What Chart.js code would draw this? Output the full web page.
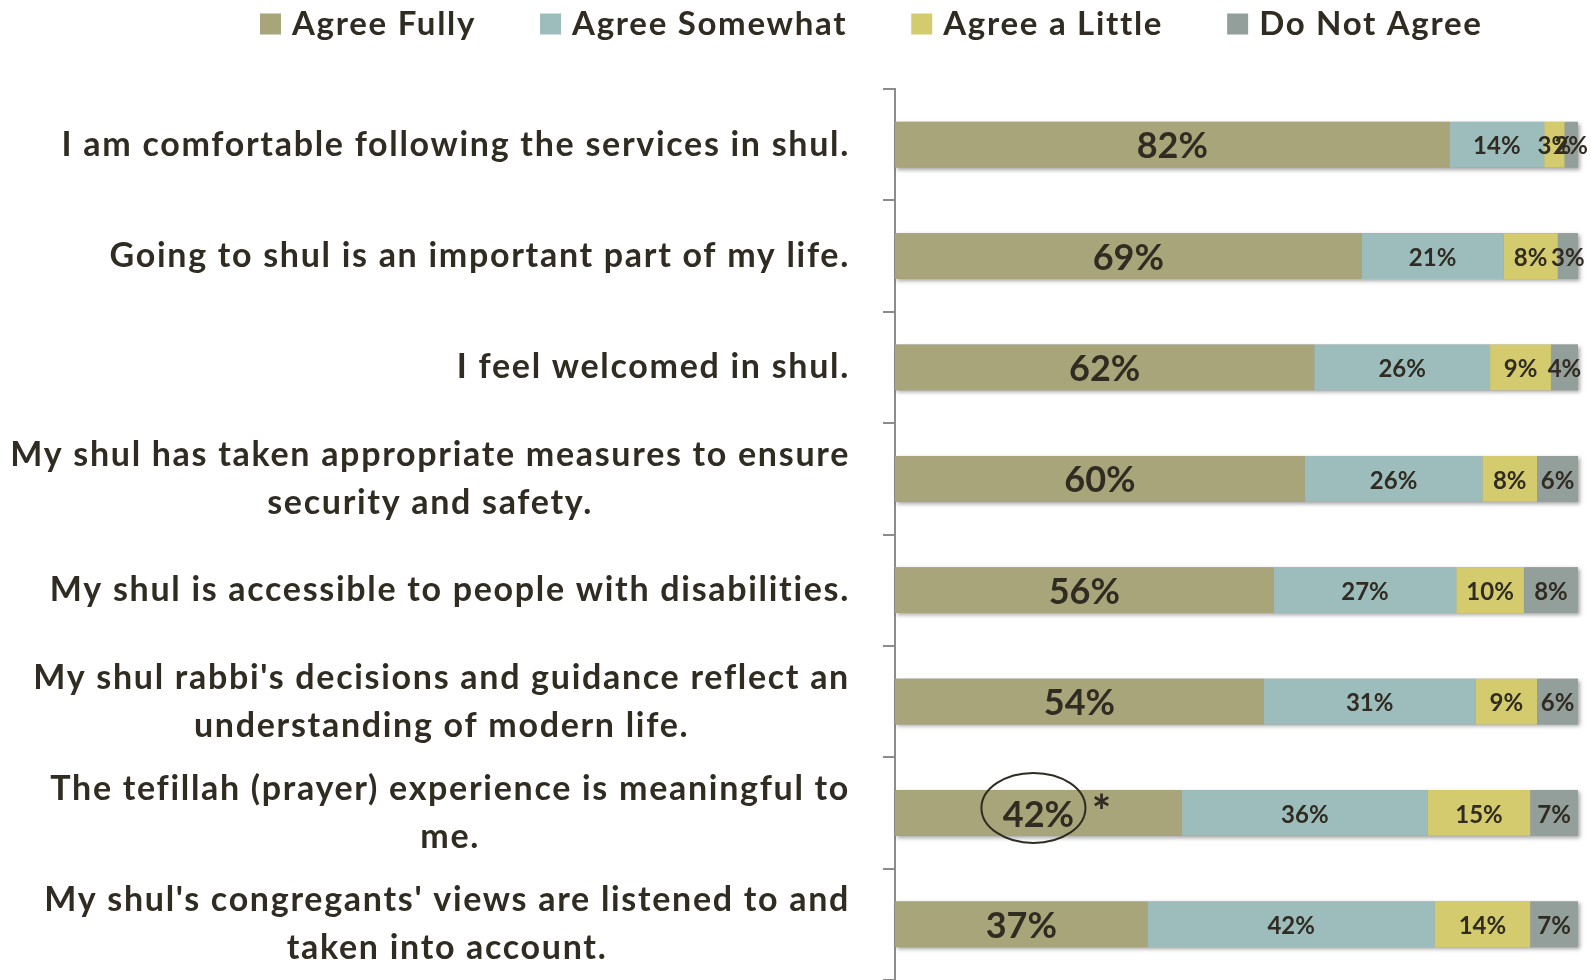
<!DOCTYPE html>
<html>
<head>
<meta charset="utf-8">
<script src="https://cdn.jsdelivr.net/npm/chart.js@4.4.1/dist/chart.umd.min.js"></script>
<style>
  html, body { margin: 0; padding: 0; background: #fff; }
  #wrap { width: 1591px; height: 980px; }
</style>
</head>
<body>
<div id="wrap"><canvas id="shulChart" width="1591" height="980"></canvas></div>
<script>
// survey statements (wrapped the way the original wraps them)
var statements = [
    ['I am comfortable following the services in shul.'],
    ['Going to shul is an important part of my life.'],
    ['I feel welcomed in shul.'],
    ['My shul has taken appropriate measures to ensure', 'security and safety.'],
    ['My shul is accessible to people with disabilities.'],
    ["My shul rabbi's decisions and guidance reflect an", 'understanding of modern life.'],
    ['The tefillah (prayer) experience is meaningful to', 'me.'],
    ["My shul's congregants' views are listened to and", 'taken into account.']
];
var agreeFully    = [82, 69, 62, 60, 56, 54, 42, 37];
var agreeSomewhat = [14, 21, 26, 26, 27, 31, 36, 42];
var agreeLittle   = [3, 8, 9, 8, 10, 9, 15, 14];
var doNotAgree    = [2, 3, 4, 6, 8, 6, 7, 7];
var seriesNames = ['Agree Fully', 'Agree Somewhat', 'Agree a Little', 'Do Not Agree'];
var seriesColors = ['#A8A57B', '#9DBDBD', '#D3CB6D', '#939F9A'];
var circledRow = 6; // the 42% that is circled with an asterisk

var FONT = 'Lato, "Open Sans", sans-serif';
var TEXT = '#302C22';
var SPACING = '1.7px'; // Lato is narrower than the original's font

var allSeries = [agreeFully, agreeSomewhat, agreeLittle, doNotAgree];
// 100% stacked, like the original: rounded values don't always add to 100
var rowTotals = agreeFully.map(function(v, i) {
    return v + agreeSomewhat[i] + agreeLittle[i] + doNotAgree[i];
});

var datasets = allSeries.map(function(vals, s) {
    return {
        label: seriesNames[s],
        data: vals.map(function(v, i) { return v / rowTotals[i] * 100; }),
        raw: vals,
        backgroundColor: seriesColors[s],
        borderWidth: 0,
        barPercentage: 0.41,
        categoryPercentage: 1
    };
});

// soft shadow under each whole bar
var barShadow = {
    id: 'barShadow',
    beforeDatasetsDraw: function(chart) {
        var ctx = chart.ctx;
        var first = chart.getDatasetMeta(0).data;
        var last = chart.getDatasetMeta(datasets.length - 1).data;
        ctx.save();
        ctx.shadowColor = 'rgba(0,0,0,0.35)';
        ctx.shadowBlur = 4;
        ctx.shadowOffsetX = 2;
        ctx.shadowOffsetY = 2;
        ctx.fillStyle = '#999';
        first.forEach(function(el, i) {
            var l = last[i];
            ctx.fillRect(el.base, el.y - el.height / 2, l.x - el.base, el.height);
        });
        ctx.restore();
    }
};

// percentage labels in the middle of every segment
var valueLabels = {
    id: 'valueLabels',
    afterDatasetsDraw: function(chart) {
        var ctx = chart.ctx;
        ctx.save();
        ctx.fillStyle = TEXT;
        ctx.textAlign = 'center';
        ctx.textBaseline = 'middle';
        datasets.forEach(function(ds, s) {
            ctx.font = 'bold ' + (s === 0 ? 36 : 24) + 'px ' + FONT;
            chart.getDatasetMeta(s).data.forEach(function(el, i) {
                var cx = (el.x + el.base) / 2;
                ctx.fillText(ds.raw[i] + '%', cx, el.y + 2);
                if (s === 0 && i === circledRow) {
                    ctx.save();
                    ctx.strokeStyle = TEXT;
                    ctx.lineWidth = 2;
                    ctx.beginPath();
                    ctx.ellipse(cx - 5, el.y - 5, 52, 35, 0, 0, Math.PI * 2);
                    ctx.stroke();
                    ctx.font = 'bold 46px ' + FONT;
                    ctx.fillText('*', cx + 63, el.y);
                    ctx.restore();
                }
            });
        });
        ctx.restore();
    }
};

// statements on the left: block right-aligned, lines centred on each other
var statementLabels = {
    id: 'statementLabels',
    afterDraw: function(chart) {
        var ctx = chart.ctx;
        var y = chart.scales.y;
        var right = y.right - 45;
        ctx.save();
        ctx.font = 'bold 34px ' + FONT;
        ctx.letterSpacing = SPACING;
        ctx.fillStyle = TEXT;
        ctx.textAlign = 'center';
        ctx.textBaseline = 'middle';
        statements.forEach(function(lines, i) {
            var w = Math.max.apply(null, lines.map(function(t) { return ctx.measureText(t).width; }));
            var cy = y.getPixelForValue(i) - (lines.length - 1) * 24;
            lines.forEach(function(t, k) {
                ctx.fillText(t, right - w / 2, cy + k * 48);
            });
        });
        ctx.restore();
    }
};

// legend row across the top
var topLegend = {
    id: 'topLegend',
    afterDraw: function(chart) {
        var ctx = chart.ctx;
        var x = 260, cy = 24, box = 21;
        ctx.save();
        ctx.font = 'bold 33px ' + FONT;
        ctx.letterSpacing = SPACING;
        ctx.textBaseline = 'middle';
        datasets.forEach(function(ds) {
            ctx.fillStyle = ds.backgroundColor;
            ctx.fillRect(x, cy - box / 2, box, box);
            x += box + 11;
            ctx.fillStyle = TEXT;
            ctx.fillText(ds.label, x, cy);
            x += ctx.measureText(ds.label).width + 64;
        });
        ctx.restore();
    }
};

var ctx = document.getElementById('shulChart').getContext('2d');
var shulChart = new Chart(ctx, {
    type: 'bar',
    data: { labels: statements, datasets: datasets },
    options: {
        indexAxis: 'y',
        responsive: false,
        animation: false,
        layout: { padding: { top: 89, right: 13, bottom: 0, left: 0 } },
        plugins: {
            legend: { display: false },
            tooltip: { enabled: false }
        },
        scales: {
            x: { stacked: true, display: false, min: 0, max: 100 },
            y: {
                stacked: true,
                ticks: { display: false },
                grid: { drawOnChartArea: false, drawTicks: true, tickLength: 12, color: '#8c8c8c', lineWidth: 2, offset: true },
                border: { display: true, color: '#8c8c8c', width: 2 },
                afterFit: function(scale) { scale.width = 895; }
            }
        }
    },
    plugins: [barShadow, valueLabels, statementLabels, topLegend]
});
</script>
</body>
</html>
